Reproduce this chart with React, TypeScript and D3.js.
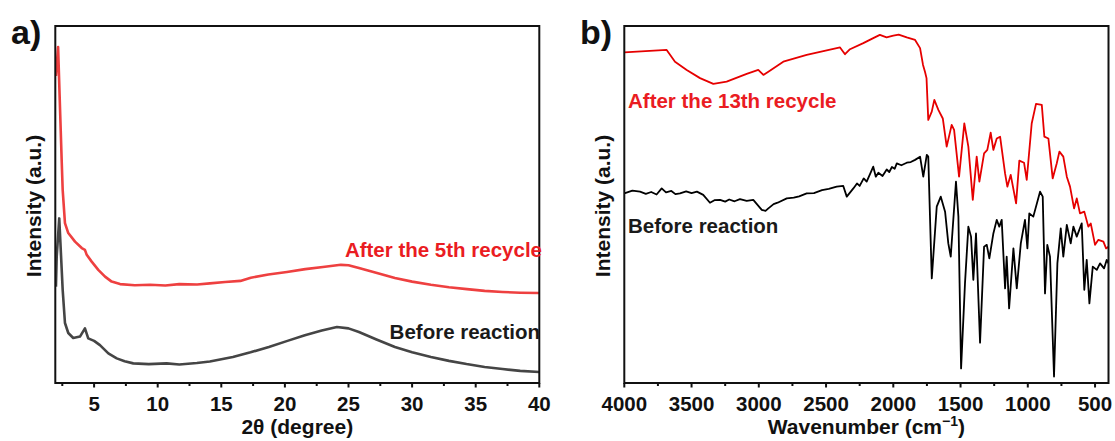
import React from 'react';
import * as d3 from 'd3';

// ---------- Panel a: XRD ----------
const xrdTicks = [5, 10, 15, 20, 25, 30, 35, 40];
const xrdMinorTicks = [2.5, 7.5, 12.5, 17.5, 22.5, 27.5, 32.5, 37.5];

const afterTheta = [2.0, 2.17, 2.3, 2.45, 2.53, 2.71, 2.97, 3.5, 4.03, 4.28, 4.42, 4.81, 5.33, 5.86, 6.38, 7.04, 8.2, 9.4, 10.6, 11.7, 13.1, 14.1, 15.3, 16.5, 17.32, 18.7, 20.16, 21.6, 22.99, 24.4, 25.0, 25.82, 27.24, 28.65, 30.0, 31.48, 32.9, 34.31, 35.7, 37.11, 38.5, 40];
const afterInt = [86, 94.1, 79.3, 62.5, 54.1, 44.8, 42.0, 39.6, 37.8, 37.3, 35.9, 34.0, 31.7, 29.8, 28.4, 27.7, 27.4, 27.5, 27.3, 27.7, 27.6, 27.9, 28.3, 28.6, 29.5, 30.4, 31.1, 31.9, 32.5, 33.1, 33.0, 32.2, 30.8, 29.4, 28.4, 27.5, 26.8, 26.3, 25.8, 25.5, 25.3, 25.2];

const beforeTheta = [2.0, 2.06, 2.26, 2.53, 2.71, 2.97, 3.36, 3.89, 4.28, 4.54, 5.0, 5.46, 6.12, 6.78, 7.4, 8.08, 9.3, 10.7, 11.7, 13.08, 14.1, 15.91, 17.3, 18.74, 20.2, 21.57, 22.9, 24.09, 25.0, 25.82, 27.2, 28.65, 30.0, 31.48, 32.9, 34.28, 35.7, 37.11, 38.5, 40];
const beforeInt = [27, 35.4, 46.1, 26.1, 16.8, 14.0, 12.6, 13.0, 15.3, 12.5, 11.8, 10.6, 8.3, 6.9, 6.1, 5.5, 5.3, 5.5, 5.2, 5.6, 6.0, 7.3, 8.6, 10.1, 11.8, 13.4, 14.7, 15.7, 15.3, 14.3, 12.2, 10.1, 8.6, 7.3, 6.2, 5.3, 4.5, 3.9, 3.4, 3.1];

// ---------- Panel b: FTIR ----------
const irTicks = [4000, 3500, 3000, 2500, 2000, 1500, 1000, 500];
const irMinorTicks = [3750, 3250, 2750, 2250, 1750, 1250, 750];

const irAfterWn = [4000, 3685, 3623, 3536, 3437, 3338, 3239, 3090, 3004, 2966, 2929, 2818, 2644, 2396, 2359, 2322, 2223, 2149, 2100, 2050, 2000, 1960, 1900, 1838, 1801, 1779, 1764, 1753, 1740, 1714, 1695, 1665, 1632, 1603, 1566, 1548, 1511, 1472, 1442, 1409, 1380, 1360, 1325, 1301, 1276, 1256, 1231, 1206, 1169, 1152, 1127, 1087, 1063, 1028, 1008, 971, 939, 896, 877, 847, 815, 785, 765, 736, 710, 686, 656, 636, 612, 580, 550, 532, 500, 475, 438, 418, 400];
const irAfterInt = [92.6, 93.3, 90.0, 87.7, 85.4, 83.8, 84.4, 86.6, 87.7, 86.3, 87.2, 90.0, 91.9, 94.0, 92.1, 93.5, 95.2, 96.6, 97.5, 96.8, 97.3, 97.6, 96.8, 96.1, 93.8, 89.1, 87.1, 85.4, 73.7, 76.0, 79.3, 76.5, 74.1, 66.2, 72.3, 70.9, 57.8, 72.7, 66.2, 51.3, 63.4, 56.4, 64.3, 65.3, 70.1, 65.3, 68.5, 69.0, 58.7, 55.0, 58.3, 50.3, 62.3, 61.7, 56.9, 72.7, 78.2, 77.9, 69.0, 68.5, 57.3, 61.5, 64.8, 63.4, 57.8, 55.0, 48.9, 51.7, 47.5, 48.0, 43.8, 44.7, 38.7, 40.1, 39.6, 37.7, 38.2];

const irBeforeWn = [4000, 3940, 3883, 3840, 3800, 3760, 3722, 3690, 3650, 3620, 3586, 3540, 3500, 3460, 3413, 3363, 3330, 3288, 3250, 3220, 3180, 3140, 3090, 3041, 2978, 2950, 2929, 2890, 2860, 2792, 2740, 2700, 2644, 2590, 2530, 2480, 2421, 2372, 2346, 2297, 2270, 2250, 2220, 2198, 2170, 2149, 2130, 2111, 2080, 2049, 2030, 2010, 1990, 1974, 1940, 1900, 1870, 1838, 1801, 1777, 1751, 1740, 1714, 1677, 1647, 1615, 1591, 1573, 1534, 1516, 1496, 1467, 1442, 1422, 1405, 1385, 1355, 1325, 1305, 1286, 1256, 1231, 1212, 1194, 1169, 1157, 1139, 1107, 1082, 1052, 1021, 1003, 989, 959, 909, 889, 872, 855, 835, 805, 780, 755, 736, 710, 681, 661, 636, 599, 580, 562, 542, 517, 487, 463, 433, 413, 400];
const irBeforeInt = [53.1, 53.9, 53.6, 53.0, 53.5, 52.8, 54.5, 53.4, 53.8, 52.9, 53.1, 53.7, 53.2, 53.6, 52.7, 50.5, 51.2, 51.3, 50.8, 51.4, 50.9, 51.5, 51.0, 51.3, 48.5, 48.2, 48.9, 50.1, 50.5, 51.7, 51.9, 52.3, 53.1, 53.2, 54.0, 54.4, 55.0, 55.2, 52.2, 54.5, 55.9, 55.2, 57.3, 56.4, 58.8, 60.6, 57.8, 58.9, 58.0, 59.8, 59.1, 60.5, 60.0, 61.5, 61.0, 61.7, 61.9, 62.5, 63.4, 57.8, 63.9, 63.4, 29.3, 49.4, 52.2, 48.0, 39.1, 35.4, 56.4, 46.6, 4.1, 27.9, 43.8, 41.0, 28.9, 41.9, 11.3, 38.2, 38.7, 34.9, 41.9, 45.7, 43.8, 45.7, 26.5, 35.4, 20.9, 37.7, 26.5, 39.1, 45.7, 37.7, 47.5, 46.6, 53.6, 52.2, 25.1, 38.7, 35.4, 1.8, 33.5, 43.3, 35.4, 44.3, 39.1, 43.8, 41.0, 44.7, 26.1, 34.5, 22.3, 32.6, 31.7, 33.5, 32.1, 34.5, 33.5];

const FONT = '"Liberation Sans", Arial, Helvetica, sans-serif';
const TOP = 26;
const BOTTOM = 383;

type Pt = [number, number];
const zip = (xs: number[], ys: number[]): Pt[] => xs.map((x, i) => [x, ys[i]]);

export default function App() {
  const y = d3.scaleLinear().domain([0, 100]).range([BOTTOM, TOP]);
  const xA = d3.scaleLinear().domain([1.95, 40]).range([55.3, 539.3]);
  const xB = d3.scaleLinear().domain([4000, 400]).range([624.3, 1108.5]);

  const lineA = d3.line<Pt>().x(d => xA(d[0])).y(d => y(d[1]));
  const lineB = d3.line<Pt>().x(d => xB(d[0])).y(d => y(d[1]));

  const [a0, a1] = xA.range();
  const [b0, b1] = xB.range();

  const tickText = { fontFamily: FONT, fontWeight: 700, fontSize: 20.5, fill: '#111' } as const;
  const titleText = { fontFamily: FONT, fontWeight: 700, fontSize: 21, fill: '#111' } as const;
  const noteText = { fontFamily: FONT, fontWeight: 700, fontSize: 20.5, fill: '#111' } as const;

  return (
    <svg width={1115} height={441} style={{ position: 'absolute', left: 0, top: 0, background: '#fff' }}>
      <defs>
        <clipPath id="clipA"><rect x={a0} y={TOP} width={a1 - a0} height={BOTTOM - TOP} /></clipPath>
        <clipPath id="clipB"><rect x={b0} y={TOP} width={b1 - b0} height={BOTTOM - TOP} /></clipPath>
      </defs>

      {/* Panel a */}
      <text x={11} y={44} style={{ fontFamily: FONT, fontWeight: 700, fontSize: 34, fill: '#111' }}>a)</text>
      <g clipPath="url(#clipA)">
        <path d={lineA(zip(beforeTheta, beforeInt)) || ''} fill="none" stroke="#454545" strokeWidth={2.6} strokeLinejoin="round" />
        <path d={lineA(zip(afterTheta, afterInt)) || ''} fill="none" stroke="#ee4040" strokeWidth={2.6} strokeLinejoin="round" />
      </g>
      <rect x={a0} y={TOP} width={a1 - a0} height={BOTTOM - TOP} fill="none" stroke="#111" strokeWidth={2} />
      {xrdTicks.map(t => (
        <g key={'at' + t}>
          <line x1={xA(t)} x2={xA(t)} y1={BOTTOM} y2={BOTTOM + 4.5} stroke="#111" strokeWidth={2} />
          <text x={xA(t)} y={411} textAnchor="middle" style={tickText}>{t}</text>
        </g>
      ))}
      {xrdMinorTicks.map(t => (
        <line key={'am' + t} x1={xA(t)} x2={xA(t)} y1={BOTTOM} y2={BOTTOM + 3} stroke="#111" strokeWidth={2} />
      ))}
      <text x={(a0 + a1) / 2} y={434} textAnchor="middle" style={titleText}>2θ (degree)</text>
      <text transform={`translate(41,206) rotate(-90)`} textAnchor="middle" style={titleText}>Intensity (a.u.)</text>
      <text x={542} y={257} textAnchor="end" style={{ ...noteText, fill: '#ea1c22' }}>After the 5th recycle</text>
      <text x={540} y={339} textAnchor="end" style={{ ...noteText, fill: '#1a1a1a' }}>Before reaction</text>

      {/* Panel b */}
      <text x={580} y={44} style={{ fontFamily: FONT, fontWeight: 700, fontSize: 34, fill: '#111' }}>b)</text>
      <g clipPath="url(#clipB)">
        <path d={lineB(zip(irAfterWn, irAfterInt)) || ''} fill="none" stroke="#e60000" strokeWidth={1.8} strokeLinejoin="round" />
        <path d={lineB(zip(irBeforeWn, irBeforeInt)) || ''} fill="none" stroke="#000" strokeWidth={1.8} strokeLinejoin="round" />
      </g>
      <rect x={b0} y={TOP} width={b1 - b0} height={BOTTOM - TOP} fill="none" stroke="#111" strokeWidth={2} />
      {irTicks.map(t => (
        <g key={'bt' + t}>
          <line x1={xB(t)} x2={xB(t)} y1={BOTTOM} y2={BOTTOM + 4.5} stroke="#111" strokeWidth={2} />
          <text x={xB(t)} y={411} textAnchor="middle" style={tickText}>{t}</text>
        </g>
      ))}
      {irMinorTicks.map(t => (
        <line key={'bm' + t} x1={xB(t)} x2={xB(t)} y1={BOTTOM} y2={BOTTOM + 3} stroke="#111" strokeWidth={2} />
      ))}
      <text x={(b0 + b1) / 2} y={434} textAnchor="middle" style={titleText}>
        Wavenumber (cm<tspan dy={-8} style={{ fontSize: 14 }}>−1</tspan><tspan dy={8}>)</tspan>
      </text>
      <text transform={`translate(610,206) rotate(-90)`} textAnchor="middle" style={titleText}>Intensity (a.u.)</text>
      <text x={628} y={108} style={{ ...noteText, fill: '#ea1c22' }}>After the 13th recycle</text>
      <text x={628} y={233} style={{ ...noteText, fill: '#1a1a1a' }}>Before reaction</text>
    </svg>
  );
}
